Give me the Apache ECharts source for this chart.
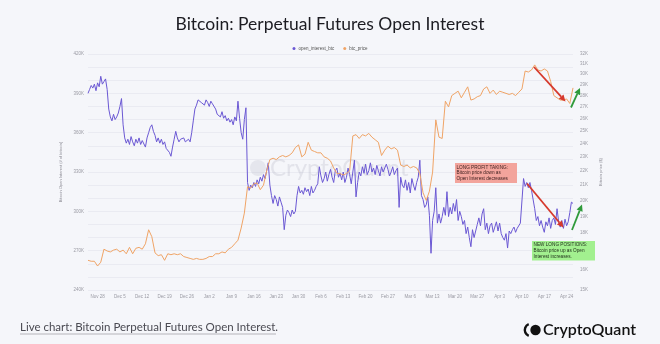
<!DOCTYPE html>
<html><head><meta charset="utf-8">
<script src="https://cdn.jsdelivr.net/npm/echarts@6/dist/echarts.min.js"></script>
<style>html,body{margin:0;padding:0;background:#f5f6fa}#c{width:660px;height:344px}</style>
</head><body><div id="c"></div><script>
// Open interest (thousand BTC), 12-hour samples starting 2022-11-25 00:00 UTC
const oiValues = [
390,393, 396,394, 397,392, 398,395, 403,397, 399,401, 393,378, 372,369, 374,370, 372,375,
380,386, 366,356, 352,355, 351,357, 353,350, 355,352, 356,351, 354,353, 349,356, 360,364,
366,361, 358,353, 356,352, 355,351, 353,348, 349,345, 342,349, 355,361, 356,353, 355,354,
356,353, 354,355, 353,360, 369,378, 381,385, 386,383, 384,381, 385,383, 380,384, 382,383,
378,374, 375,372, 376,371, 373,369, 371,368, 370,366, 372,369, 384,371, 360,355, 370,379,
322,316, 320,318, 322,319, 324,321, 326,323, 328,325, 331,337, 320,312, 306,312, 309,304,
311,307, 303,286, 297,301, 299,296, 301,298, 300,312, 319,314, 316,313, 318,315, 317,312,
319,314, 316,319, 321,334, 327,322, 325,330, 323,328, 332,326, 322,331, 333,326, 329,324,
330,322, 326,333, 328,321, 330,339, 311,322, 330,327, 334,329, 336,328, 331,337, 330,333,
328,335, 331,327, 334,330, 329,336, 332,327, 330,334, 328,331, 333,303, 326,320, 318,324,
316,322, 314,325, 320,316, 322,326, 339,312, 309,303, 305,311, 297,268, 293,300, 318,291,
298,291, 296,303, 297,315, 296,303, 298,306, 300,309, 293,300, 296,290, 293,283, 288,280,
273,286, 280,285, 290,295, 289,298, 302,286, 291,283, 289,291, 284,288, 292,285, 291,283,
280,278, 283,272, 285,283, 286,288, 284,287, 288,291, 290,325, 319,322, 318,322, 316,315,
302,293, 296,289, 293,288, 284,292, 289,295, 287,293, 295,290, 302,292, 288,293, 287,294,
289,292, 299,307, 306
];
// Bitcoin price (thousand USD), daily samples starting 2022-11-25
const priceValues = [
16.5,16.45,16.45,16.2,16.4,17.1,17.0,16.95,17.05,17.1,
16.95,17.05,16.85,17.2,16.85,17.15,17.2,17.1,17.4,18.2,
17.8,16.9,16.75,16.8,16.5,16.85,16.8,16.85,16.8,16.85,
16.7,16.65,16.6,16.55,16.6,16.55,16.55,16.6,16.7,16.7,
16.85,16.85,16.95,16.9,17.1,17.2,17.4,17.6,18.3,19.2,
20.9,20.8,21.1,21.15,20.7,21.0,22.0,22.8,22.9,22.8,
23.0,23.1,23.0,23.1,23.3,23.7,23.9,23.0,23.2,24.1,
23.5,23.4,23.3,23.3,23.0,22.9,22.7,22.2,21.8,21.8,
21.7,21.8,22.0,24.6,24.7,24.4,24.7,24.6,24.8,24.5,
24.3,24.1,23.1,23.5,23.8,23.6,23.7,23.5,22.4,22.3,
22.4,22.2,22.3,22.2,21.8,20.5,20.0,20.6,21.9,25.9,
24.5,24.4,27.5,27.0,28.0,28.2,28.4,27.8,28.3,28.8,
27.6,27.7,27.9,28.0,28.6,28.8,28.2,28.5,28.1,28.4,
28.3,28.2,28.1,28.2,28.0,28.3,28.6,30.3,30.2,30.4,
30.9,30.4,30.3,30.5,30.3,29.3,28.0,27.8,27.6,27.6,
27.7,27.3,28.7
];
const xTickLabels = ['Nov 28','Dec 5','Dec 12','Dec 19','Dec 26','Jan 2','Jan 9','Jan 16','Jan 23','Jan 30','Feb 6','Feb 13','Feb 20','Feb 27','Mar 6','Mar 13','Mar 20','Mar 27','Apr 3','Apr 10','Apr 17','Apr 24'];
const oiTicks = [240,270,300,330,360,390,420];
const priceTicks = [15,16,17,18,19,20,21,22,23,24,25,26,27,28,29,30,31,32];
const seriesNames = ['open_interest_btc','btc_price'];

const START = Date.UTC(2022,10,25);
const HOUR = 3600*1000;
const MONTHS = ['Jan','Feb','Mar','Apr','May','Jun','Jul','Aug','Sep','Oct','Nov','Dec'];
const oiTimes = oiValues.map((_,i)=> new Date(START + i*12*HOUR).toISOString().slice(0,13));
const priceDays = priceValues.map((_,i)=> new Date(START + i*24*HOUR).toISOString().slice(0,10));
function fmtDay(s){ const d = new Date(s.slice(0,10)+'T00:00:00Z'); return MONTHS[d.getUTCMonth()]+' '+d.getUTCDate(); }

const LOG = v => Math.log10(v*1000);
const SMALL = '"Liberation Sans", Arial, sans-serif';

function arrow(x1,y1,x2,y2,color){
  const a = Math.atan2(y2-y1,x2-x1), L=6.5, W=3.2;
  const bx = x2-L*Math.cos(a), by = y2-L*Math.sin(a);
  return [
    {type:'line', z:60, shape:{x1:x1,y1:y1,x2:bx,y2:by}, style:{stroke:color,lineWidth:1.8}},
    {type:'polygon', z:60, shape:{points:[[x2,y2],[bx+W*Math.sin(a),by-W*Math.cos(a)],[bx-W*Math.sin(a),by+W*Math.cos(a)]]}, style:{fill:color}}
  ];
}

const chart = echarts.init(document.getElementById('c'), null, {renderer:'canvas'});
chart.setOption({
  backgroundColor:'#f5f6fa',
  animation:false,
  title:{text:'Bitcoin: Perpetual Futures Open Interest', left:'center', top:10,
    textStyle:{fontFamily:'Lato', fontSize:17.5, fontWeight:'normal', color:'#1c1c22'}},
  legend:{top:41, left:'center', icon:'circle', itemWidth:3, itemHeight:3, itemGap:9,
    textStyle:{fontSize:4.5, color:'#555', fontFamily:SMALL, padding:[0,0,0,-2]}, data:seriesNames},
  grid:{left:88, right:87, top:54, bottom:54},
  xAxis:[
    {type:'category', data:oiTimes, boundaryGap:false,
      axisLine:{show:false}, axisTick:{show:false}, splitLine:{show:false},
      axisLabel:{interval:(i,v)=> v.endsWith('T00') && xTickLabels.includes(fmtDay(v)),
        formatter:v=>fmtDay(v), fontSize:4.5, color:'#9a9aa3', fontFamily:SMALL, margin:4}},
    {type:'category', data:priceDays, boundaryGap:false, show:false}
  ],
  yAxis:[
    {type:'value', position:'left', min:240, max:420, interval:10,
      name:'Bitcoin Open Interest (# of bitcoin)', nameLocation:'middle', nameGap:20,
      nameTextStyle:{fontSize:4, color:'#8a8a93', fontFamily:SMALL},
      axisLine:{show:false}, axisTick:{show:false},
      axisLabel:{formatter:v=> oiTicks.includes(v) ? v+'K' : '', fontSize:4.5, color:'#9a9aa3', fontFamily:SMALL, margin:4},
      splitLine:{lineStyle:{color:'#e5e7ee', width:0.7}}},
    {type:'value', position:'right', min:LOG(15), max:LOG(32),
      name:'Bitcoin price ($)', nameLocation:'middle', nameGap:17,
      nameTextStyle:{fontSize:4, color:'#8a8a93', fontFamily:SMALL},
      axisLine:{show:false}, axisTick:{show:false}, splitLine:{show:false},
      axisLabel:{customValues:priceTicks.map(LOG), formatter:v=> Math.round(Math.pow(10,v)/1000)+'K',
        fontSize:4.5, color:'#9a9aa3', fontFamily:SMALL, margin:7}}
  ],
  series:[
    {name:seriesNames[0], type:'line', xAxisIndex:0, yAxisIndex:0, data:oiValues, showSymbol:false,
      lineStyle:{width:1, color:'#6b58d4'}, itemStyle:{color:'#6b58d4'}},
    {name:seriesNames[1], type:'line', xAxisIndex:1, yAxisIndex:1, data:priceValues.map(LOG), showSymbol:false,
      lineStyle:{width:1, color:'#f0a466'}, itemStyle:{color:'#f0a466'}}
  ],
  graphic:[
    {type:'circle', z:1, shape:{cx:258, cy:168, r:8}, style:{fill:'rgba(160,160,178,0.18)'}},
    {type:'text', z:1, x:270, y:168, style:{text:'CryptoQuant', fontFamily:'Lato', fontSize:24, fill:'rgba(160,160,178,0.22)', verticalAlign:'middle'}},
    {type:'rect', z:40, shape:{x:455, y:163, width:62, height:20}, style:{fill:'#f3a49c'}},
    {type:'text', z:41, x:456.5, y:164.5, style:{text:'LONG PROFIT TAKING:\nBitcoin price down as\nOpen Interest decreases', fontFamily:SMALL, fontSize:4.7, lineHeight:5.8, fill:'#3b1d1d'}},
    {type:'rect', z:40, shape:{x:532, y:241, width:63, height:19.5}, style:{fill:'#a2f08f'}},
    {type:'text', z:41, x:533.5, y:242.3, style:{text:'NEW LONG POSITIONS:\nBitcoin price up as Open\nInterest increases.', fontFamily:SMALL, fontSize:4.7, lineHeight:5.8, fill:'#1d2b18'}},
    ...arrow(534,67,565.5,101.5,'#d6392d'),
    ...arrow(527,183.5,563.5,227.5,'#d6392d'),
    ...arrow(571,107.5,580,88,'#2f9a3a'),
    ...arrow(572,230,582,204.5,'#2f9a3a'),
    {type:'text', z:50, x:20, y:327, style:{text:'Live chart: Bitcoin Perpetual Futures Open Interest.', fontFamily:'Lato', fontSize:11.5, fill:'#4a4a52', verticalAlign:'middle'}},
    {type:'line', z:50, shape:{x1:20, y1:334, x2:276, y2:334}, style:{stroke:'#8a8a92', lineWidth:0.6}},
    {type:'arc', z:50, shape:{cx:531, cy:330, r:6.2, startAngle:Math.PI*0.62, endAngle:Math.PI*1.38}, style:{stroke:'#111', lineWidth:2.4, fill:null}},
    {type:'circle', z:50, shape:{cx:535.5, cy:330, r:5.2}, style:{fill:'#111'}},
    {type:'text', z:50, x:543, y:330, style:{text:'CryptoQuant', fontFamily:'Lato', fontSize:16, fontWeight:600, fill:'#111', verticalAlign:'middle'}}
  ]
});
</script></body></html>
